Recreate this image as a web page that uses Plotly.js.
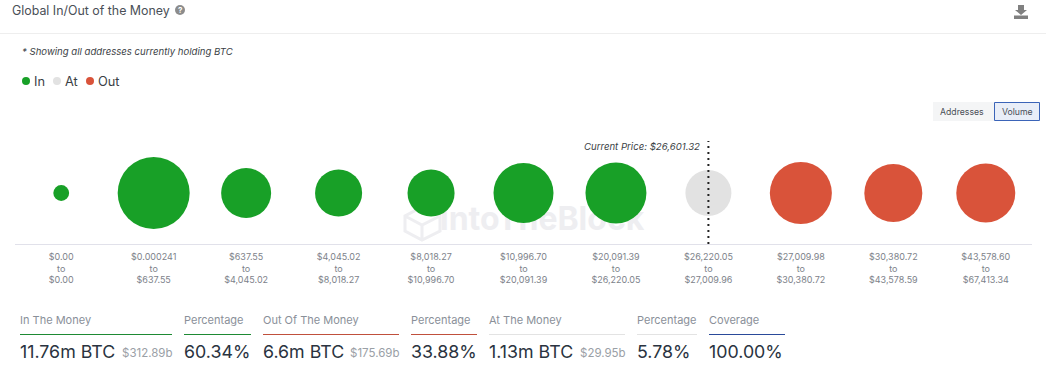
<!DOCTYPE html>
<html><head><meta charset="utf-8">
<script src="https://cdn.plot.ly/plotly-3.0.1.min.js"></script>
<style>html,body{margin:0;padding:0;background:#fff;overflow:hidden}#c{width:1046px;height:376px}</style>
</head><body><div id="c"></div>
<script>
// Price-range buckets (low / high end)
const rangeLow = ["$0.00","$0.000241","$637.55","$4,045.02","$8,018.27","$10,996.70","$20,091.39","$26,220.05","$27,009.98","$30,380.72","$43,578.60"];
const rangeHigh = ["$0.00","$637.55","$4,045.02","$8,018.27","$10,996.70","$20,091.39","$26,220.05","$27,009.96","$30,380.72","$43,578.59","$67,413.34"];
// Volume per bucket, millions of BTC
const inIdx = [0,1,2,3,4,5,6];
const inVol = [0.15,3.11,1.50,1.33,1.33,2.16,2.23];
const atIdx = [7];
const atVol = [1.27];
const outIdx = [8,9,10];
const outVol = [2.31,2.02,2.09];
const currentPriceIdx = 7;
const currentPriceLabel = "Current Price: $26,601.32";
// Legend
const legendNames = ["In","At","Out"];
// Summary strip
const statLabels = ["In The Money","Percentage","Out Of The Money","Percentage","At The Money","Percentage","Coverage"];
const statValues = ["11.76m BTC","60.34%","6.6m BTC","33.88%","1.13m BTC","5.78%","100.00%"];
const statSubs = ["$312.89b","","$175.69b","","$29.95b","",""];

const GREEN="#18a027", GREY="#e2e2e2", RED="#d9533a";
const L=15,R=14,T=142,B=132,W=1046,H=376;
const PW=W-L-R,PH=H-T-B;
const px=x=>(x-L)/PW, py=y=>(H-B-y)/PH;
const FONT="Inter, sans-serif";
const SIZEREF=0.0012;

const bubble=(name,x,v,color)=>({type:"scatter",mode:"markers",name,x,y:x.map(()=>0.5),
  marker:{size:v,sizemode:"area",sizeref:SIZEREF,color,line:{width:0},opacity:1},hoverinfo:"skip",showlegend:false});

const traces=[
 {type:"scatter",mode:"text",x:[5.2],y:[0.215],text:["IntoTheBlock"],textposition:"middle center",
  textfont:{family:FONT,size:32,color:"#eeeef1",weight:700},showlegend:false,hoverinfo:"skip"},
 bubble(legendNames[0],inIdx,inVol,GREEN),
 bubble(legendNames[1],atIdx,atVol,GREY),
 bubble(legendNames[2],outIdx,outVol,RED)
];

const ann=[];
const text=(x,y,t,size,color,extra)=>ann.push(Object.assign({xref:"paper",yref:"paper",x:px(x),y:py(y),text:t,showarrow:false,
  xanchor:"left",yanchor:"middle",align:"left",font:{family:FONT,size,color},borderpad:0,borderwidth:0},extra||{}));

text(12,10,"Global In/Out of the Money",12.4,"#4a4f57");
text(180,10,"?",8,"#ffffff",{xanchor:"center",font:{family:FONT,size:8,color:"#fff",weight:700}});
text(22,51,"<i>* Showing all addresses currently holding BTC</i>",9.6,"#3b3f46");
text(584,146,"<i>"+currentPriceLabel+"</i>",9.6,"#3b3f46");
text(962,112,"Addresses",8.7,"#4a4f57",{xanchor:"center"});
text(1017,112,"Volume",8.7,"#4a4f57",{xanchor:"center"});

const legendDotX=[26,57,90];
const legendTextX=[34,65,98];
const legendCol=[GREEN,GREY,RED];
legendNames.forEach((n,i)=>text(legendTextX[i],81,n,12.8,"#3b3f46"));

const statX=[20,184,263,411,489,637,709];
const statEnd=[172,251,399,477,625,697,785];
const subX=[122,0,350,0,580,0,0];
const statCol=["#1e8a34","#1e8a34","#c0503c","#c0503c","#e3e3e3","#e3e3e3","#2a4a9a"];
statLabels.forEach((s,i)=>{
  text(statX[i],320,s,11,"#8a9099");
  text(statX[i],351,statValues[i],17.8,"#2a3340");
  if(statSubs[i]) text(subX[i],353,statSubs[i],11.5,"#9aa0a6");
});

const shapes=[
 {type:"line",xref:"paper",yref:"paper",x0:px(0),x1:px(1046),y0:py(33.5),y1:py(33.5),line:{color:"#eeeeee",width:1},layer:"below"},
 {type:"circle",xref:"paper",yref:"paper",x0:px(175),x1:px(185),y0:py(15),y1:py(5),fillcolor:"#8c8c8c",line:{width:0}},
 {type:"rect",xref:"paper",yref:"paper",x0:px(933),x1:px(994),y0:py(121),y1:py(102),fillcolor:"#f4f5f6",line:{width:0}},
 {type:"rect",xref:"paper",yref:"paper",x0:px(994.5),x1:px(1039.5),y0:py(120.5),y1:py(102.5),fillcolor:"#e9eef8",line:{color:"#3b64b8",width:1}},
 {type:"line",xref:"x",yref:"paper",x0:currentPriceIdx,x1:currentPriceIdx,y0:0,y1:py(141),line:{color:"#222",width:2,dash:"2px,4px"}},
 {type:"path",xref:"paper",yref:"paper",fillcolor:"#808080",line:{width:0},
  path:`M${px(1018)} ${py(5)}L${px(1024)} ${py(5)}L${px(1024)} ${py(10)}L${px(1027)} ${py(10)}L${px(1021)} ${py(15)}L${px(1015)} ${py(10)}L${px(1018)} ${py(10)}Z`},
 {type:"rect",xref:"paper",yref:"paper",x0:px(1014),x1:px(1028),y0:py(19),y1:py(15.5),fillcolor:"#808080",line:{width:0}},
 {type:"path",xref:"paper",yref:"paper",fillcolor:"rgba(0,0,0,0)",layer:"below",line:{color:"#eeeef1",width:3},
  path:`M${px(422)} ${py(207)}L${px(440)} ${py(216)}L${px(440)} ${py(231)}L${px(422)} ${py(240)}L${px(405)} ${py(231)}L${px(405)} ${py(216)}ZM${px(405)} ${py(216)}L${px(422)} ${py(225)}L${px(440)} ${py(216)}M${px(422)} ${py(225)}L${px(422)} ${py(240)}`}
];
legendDotX.forEach((x,i)=>shapes.push({type:"circle",xref:"paper",yref:"paper",x0:px(x-4),x1:px(x+4),y0:py(85),y1:py(77),fillcolor:legendCol[i],line:{width:0}}));
statX.forEach((x,i)=>shapes.push({type:"line",xref:"paper",yref:"paper",x0:px(x),x1:px(statEnd[i]),y0:py(334.5),y1:py(334.5),line:{color:statCol[i],width:1}}));

const layout={width:W,height:H,margin:{l:L,r:R,t:T,b:B,pad:0},paper_bgcolor:"#fff",plot_bgcolor:"rgba(0,0,0,0)",
 font:{family:FONT},hovermode:false,showlegend:false,
 xaxis:{range:[-0.5,10.5],fixedrange:true,showgrid:false,zeroline:false,showline:true,linecolor:"#e1e1ea",linewidth:1,
   tickmode:"array",tickvals:rangeLow.map((_,i)=>i),ticktext:rangeLow.map((s,i)=>s+"<br>to<br>"+rangeHigh[i]),
   tickfont:{family:FONT,size:9,color:"#7d828a"},ticks:"",tickangle:0,ticklabelstandoff:4},
 yaxis:{range:[0,1],fixedrange:true,visible:false},
 annotations:ann,shapes};
Plotly.newPlot("c",traces,layout,{displayModeBar:false,staticPlot:true});
</script></body></html>
